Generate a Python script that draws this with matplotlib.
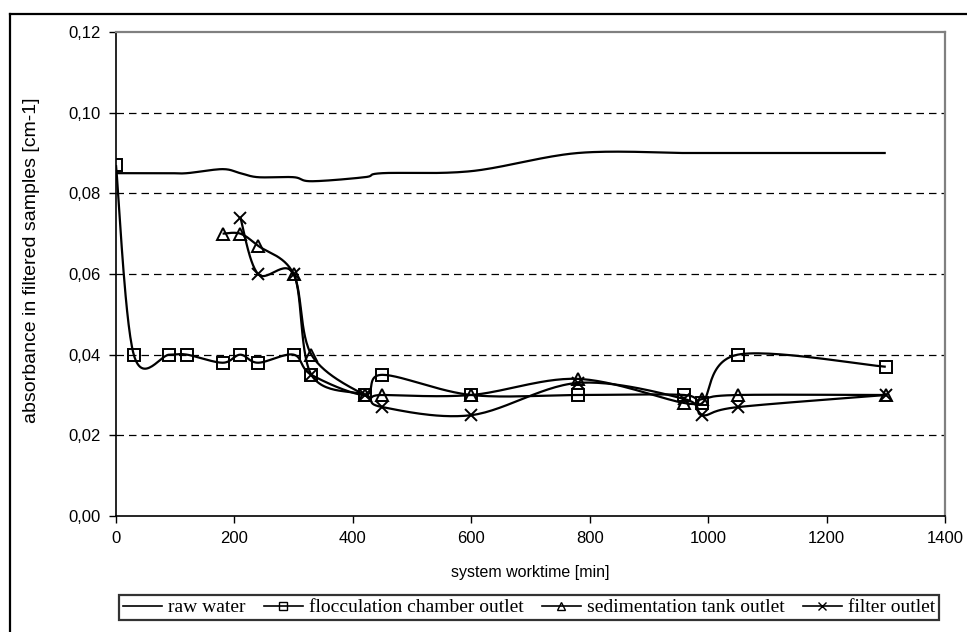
import numpy as np
import matplotlib
matplotlib.use("Agg")
import matplotlib.pyplot as plt
from matplotlib.lines import Line2D

# ---- data ----
raw_x = [0, 30, 90, 120, 180, 210, 240, 300, 330, 420, 450, 600, 780, 960, 990, 1050, 1300]
raw_y = [0.085, 0.085, 0.085, 0.085, 0.086, 0.085, 0.084, 0.084, 0.083, 0.084, 0.085, 0.0855, 0.090, 0.090, 0.090, 0.090, 0.090]

floc_x = [0, 30, 90, 120, 180, 210, 240, 300, 330, 420, 450, 600, 780, 960, 990, 1050, 1300]
floc_y = [0.087, 0.040, 0.040, 0.040, 0.038, 0.040, 0.038, 0.040, 0.035, 0.030, 0.035, 0.030, 0.030, 0.030, 0.028, 0.040, 0.037]

sed_x = [180, 210, 240, 300, 330, 420, 450, 600, 780, 960, 990, 1050, 1300]
sed_y = [0.070, 0.070, 0.067, 0.060, 0.040, 0.030, 0.030, 0.030, 0.034, 0.028, 0.029, 0.030, 0.030]

filt_x = [210, 240, 300, 330, 420, 450, 600, 780, 960, 990, 1050, 1300]
filt_y = [0.074, 0.060, 0.060, 0.035, 0.030, 0.027, 0.025, 0.033, 0.029, 0.025, 0.027, 0.030]

labels = ["raw water", "flocculation chamber outlet", "sedimentation tank outlet", "filter outlet"]
xticks = [0, 200, 400, 600, 800, 1000, 1200, 1400]
yticks = [0.00, 0.02, 0.04, 0.06, 0.08, 0.10, 0.12]


def smooth(x, y, n=30):
    """Excel-like smoothed line: cubic Bezier segments with Catmull-Rom control points."""
    p = np.column_stack([x, y]).astype(float)
    out = [p[0]]
    t = np.linspace(0, 1, n)[1:]
    for i in range(len(p) - 1):
        p0 = p[i - 1] if i > 0 else p[i]
        p1, p2 = p[i], p[i + 1]
        p3 = p[i + 2] if i + 2 < len(p) else p[i + 1]
        c1 = p1 + (p2 - p0) / 6.0
        c2 = p2 - (p3 - p1) / 6.0
        tt = t[:, None]
        seg = ((1 - tt) ** 3) * p1 + 3 * ((1 - tt) ** 2) * tt * c1 + 3 * (1 - tt) * tt ** 2 * c2 + tt ** 3 * p2
        out.extend(seg)
    out = np.array(out)
    return out[:, 0], out[:, 1]


W, H = 967, 632
fig = plt.figure(figsize=(W / 100, H / 100), dpi=100)
L, R, T, B = 116, 945, 32, 516
ax = fig.add_axes([L / W, 1 - B / H, (R - L) / W, (B - T) / H])

sans = "Liberation Sans"
serif = "Liberation Serif"

lw = 1.6
ms = 8
series = [
    (raw_x, raw_y, None),
    (floc_x, floc_y, "s"),
    (sed_x, sed_y, "^"),
    (filt_x, filt_y, "x"),
]
for (xs, ys, mk) in series:
    sx, sy = smooth(xs, ys)
    ax.plot(sx, sy, color="black", lw=lw, zorder=3, solid_capstyle="butt")
for (xs, ys, mk) in series:
    if mk is None:
        continue
    ax.plot(xs, ys, linestyle="none", marker=mk, markersize=ms if mk != "x" else ms + 1,
            markerfacecolor="none", markeredgecolor="black", markeredgewidth=1.4, zorder=4)

ax.set_xlim(0, 1400)
ax.set_ylim(0, 0.12)
ax.set_xticks(xticks)
ax.set_yticks(yticks)
ax.set_xticklabels([str(v) for v in xticks], fontsize=12, family=sans)
ax.set_yticklabels([f"{v:.2f}".replace(".", ",") for v in yticks], fontsize=12, family=sans)
ax.tick_params(direction="out", length=5, width=1, color="black", pad=6)

for v in yticks[1:-1]:
    ax.axhline(v, color="black", lw=0.9, dashes=(6, 4), zorder=1)

ax.spines["left"].set_color("black")
ax.spines["bottom"].set_color("black")
ax.spines["left"].set_linewidth(1.2)
ax.spines["bottom"].set_linewidth(1.2)
ax.spines["top"].set_color("#808080")
ax.spines["right"].set_color("#808080")
ax.spines["top"].set_linewidth(1.6)
ax.spines["right"].set_linewidth(1.6)

ax.set_xlabel("system worktime [min]", fontsize=11.5, family=sans)
ax.set_ylabel("absorbance in filtered samples [cm-1]", fontsize=14, family=sans)
ax.xaxis.set_label_coords((530 - L) / (R - L), (B - 573) / (B - T))
ax.yaxis.set_label_coords((32 - L) / (R - L), (B - 260) / (B - T))
ax.xaxis.label.set_va("center")
ax.yaxis.label.set_va("center")

# outer chart border (left & top visible)
fig.add_artist(Line2D([10 / W, 10 / W], [0, 1 - 14 / H], transform=fig.transFigure, color="black", lw=1.6))
fig.add_artist(Line2D([10 / W, 1], [1 - 14 / H, 1 - 14 / H], transform=fig.transFigure, color="black", lw=1.6))

handles = [
    Line2D([], [], color="black", lw=1.2),
    Line2D([], [], color="black", lw=1.2, marker="s", markersize=6, markerfacecolor="none", markeredgewidth=1),
    Line2D([], [], color="black", lw=1.2, marker="^", markersize=6, markerfacecolor="none", markeredgewidth=1),
    Line2D([], [], color="black", lw=1.2, marker="x", markersize=6, markeredgewidth=1),
]
leg = fig.legend(handles, labels, loc="center", bbox_to_anchor=(529 / W, 1 - 607.5 / H), ncol=4,
                 prop={"family": serif, "size": 14}, frameon=True, fancybox=False,
                 edgecolor="black", handlelength=2.0, handletextpad=0.3, columnspacing=0.95,
                 borderpad=0.2, borderaxespad=0)
leg.get_frame().set_linewidth(1.6)

fig.savefig("out.png", dpi=100)
